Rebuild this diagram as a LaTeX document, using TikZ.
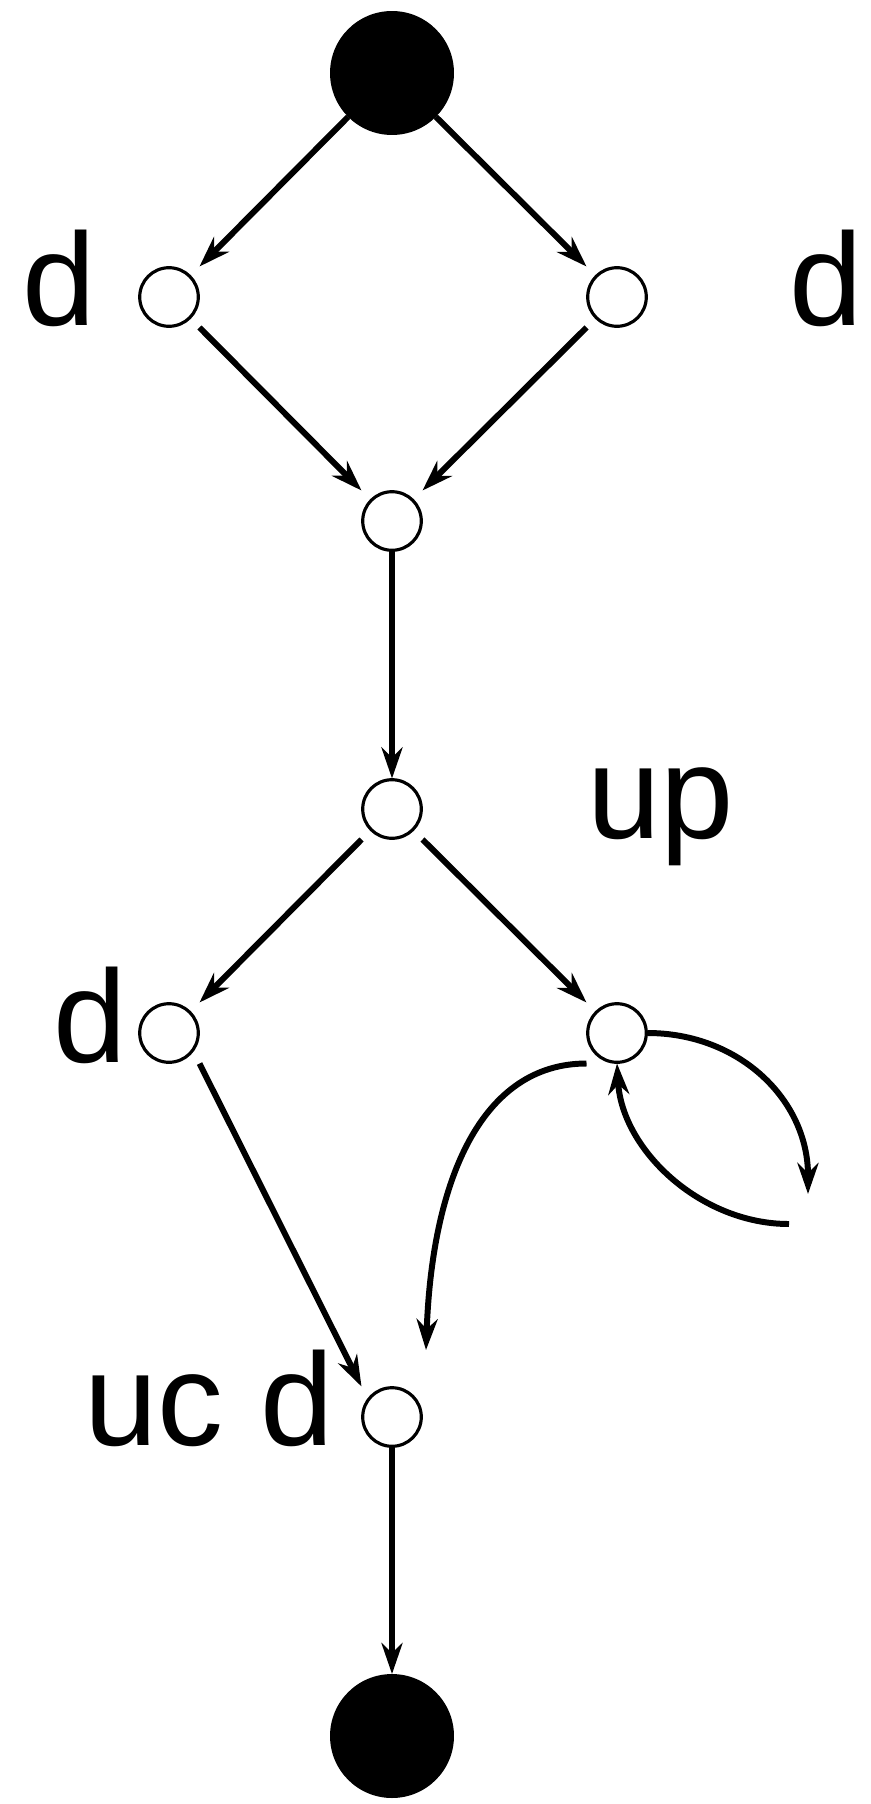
\documentclass[tikz,border=0pt]{standalone}
\usepackage{fontspec}
\setmainfont{Liberation Sans}
\usepackage{tikz}
\usetikzlibrary{arrows.meta}

\begin{document}
\begin{tikzpicture}[x=0.02cm,y=-0.02cm,
  >={Stealth[length=0.62cm,width=0.42cm,inset=0.2cm]},
  blackdot/.style={circle,fill=black,inner sep=0pt,outer sep=0pt,minimum size=2.48cm},
  whitedot/.style={rectangle,inner sep=0pt,outer sep=0pt,minimum size=1.22cm,
    append after command={\pgfextra{\draw[line width=1.8pt] (\tikzlastnode.center) circle[radius=0.586cm];}}},
  lbl/.style={anchor=base west,inner sep=0pt,font=\fontsize{75}{90}\selectfont},
  flow/.style={->,line width=3.4pt}]
\useasboundingbox (0,0) rectangle (871,1804);
\node[blackdot] (start) at (392,73) {};
\node[whitedot] (left1) at (169,297) {};
\node[whitedot] (right1) at (617,297) {};
\node[whitedot] (join) at (392,521) {};
\node[whitedot] (fork) at (392,809) {};
\node[whitedot] (left2) at (169,1033) {};
\node[whitedot] (right2) at (617,1033) {};
\node[whitedot] (merge) at (392,1417) {};
\node[blackdot] (stop) at (392,1736) {};
% labels
\node[lbl] (dA) at (22,326) {d};
\node[lbl] (dB) at (789,326) {d};
\node[lbl] (up) at (587,838) {up};
\node[lbl] (dC) at (53,1062) {d};
\node[lbl] (ucd) at (84,1445) {uc d};
% loose ends of the curves
\coordinate (endA) at (426,1350);
\coordinate (loopA) at (808,1194);
\coordinate (loopB) at (789,1224);
\draw[flow] (start.south west) -- (left1.north east);
\draw[flow] (start.south east) -- (right1.north west);
\draw[flow] (left1.south east) -- (join.north west);
\draw[flow] (right1.south west) -- (join.north east);
\draw[flow] (join.south) -- (fork.north);
\draw[flow] (fork.south west) -- (left2.north east);
\draw[flow] (fork.south east) -- (right2.north west);
\draw[flow] (left2.south east) -- (merge.north west);
\draw[flow] (right2.south west) .. controls +(-105,0) and +(6,-170) .. (endA);
\draw[flow] (right2.east) .. controls +(92,0) and +(0,-94) .. (loopA);
\draw[flow] (loopB) .. controls +(-89,0) and +(5,86) .. (right2.south);
\draw[flow] (merge.south) -- (stop.north);
\end{tikzpicture}
\end{document}
